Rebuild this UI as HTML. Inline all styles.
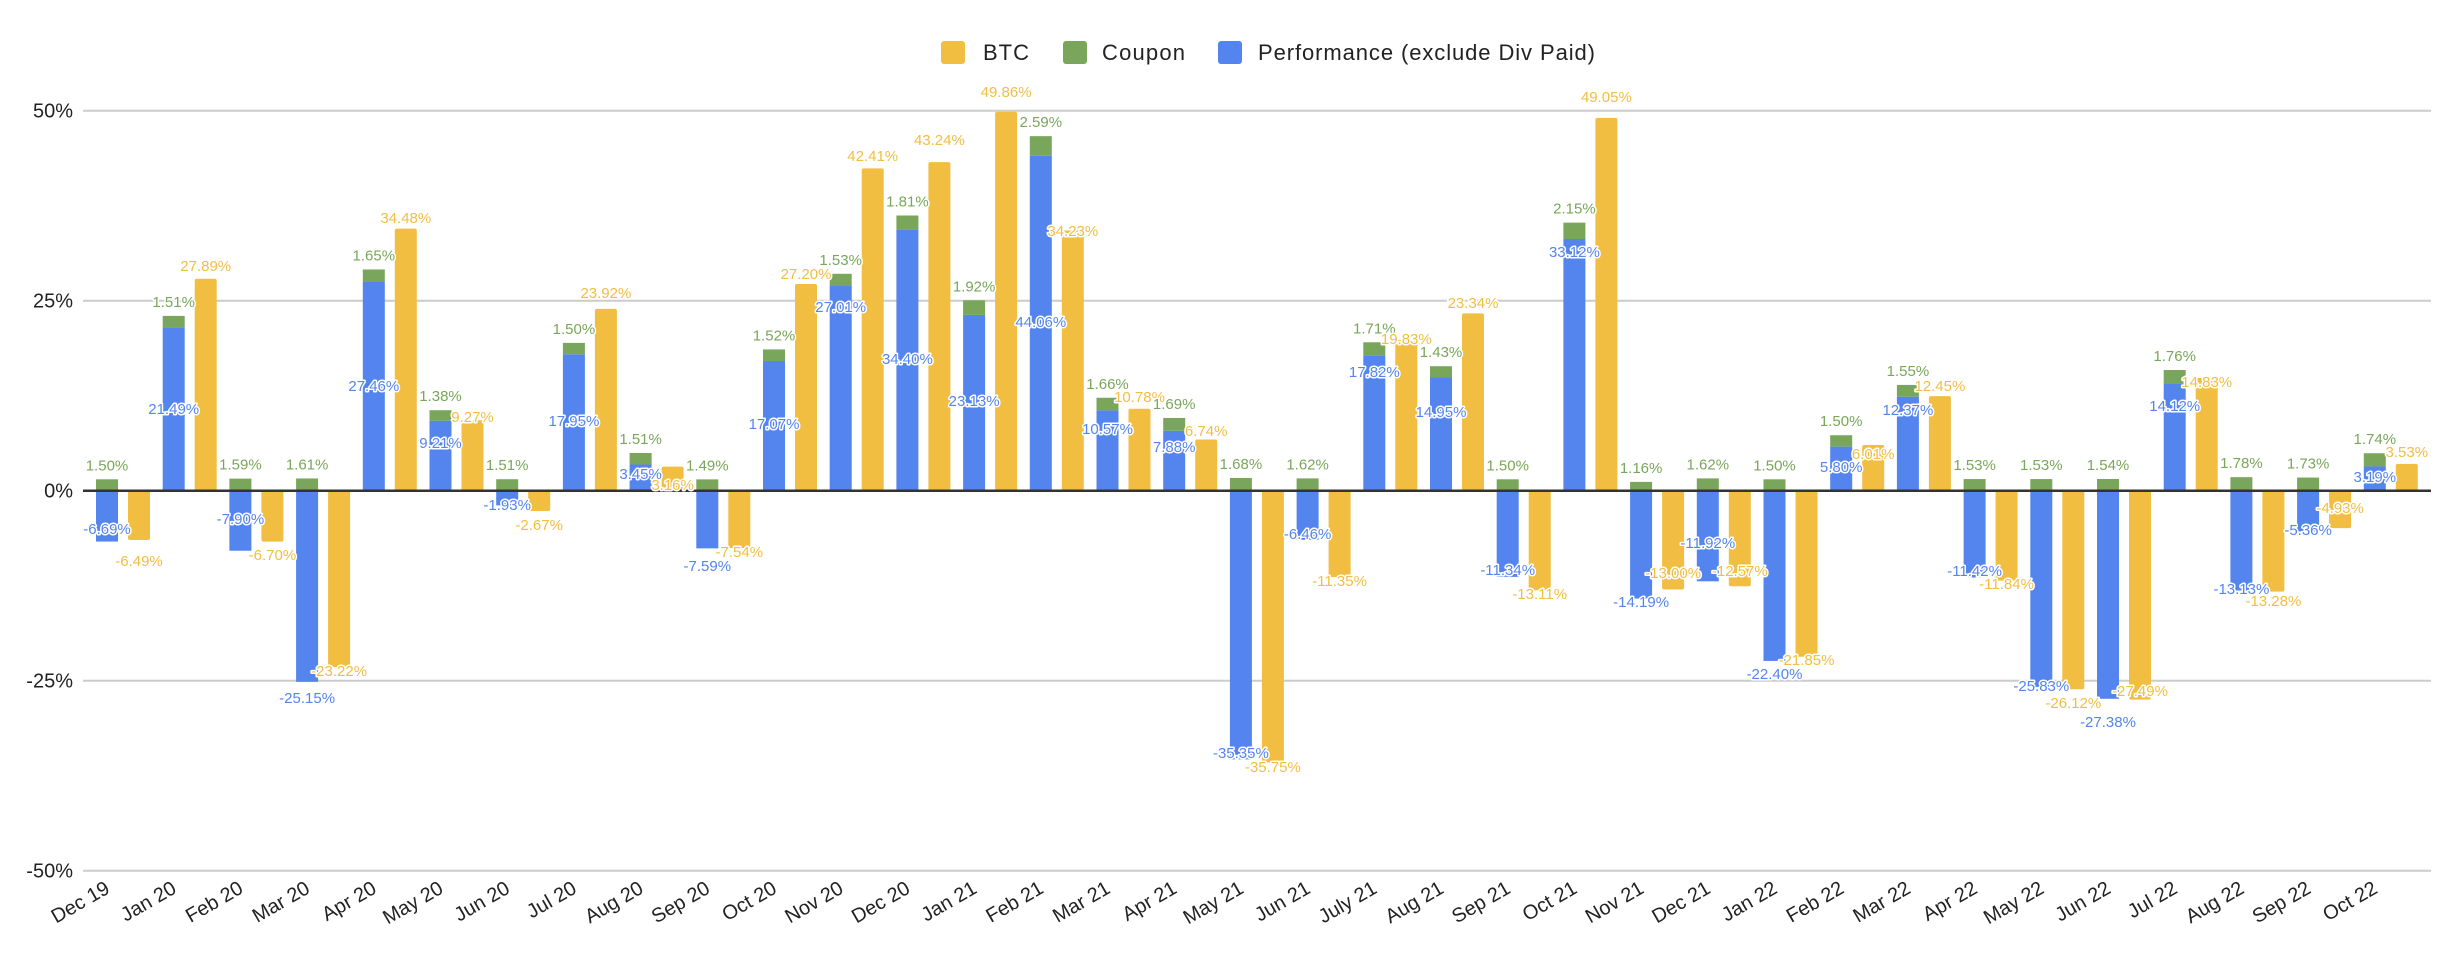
<!DOCTYPE html>
<html><head><meta charset="utf-8"><style>
html,body{margin:0;padding:0;background:#fff;}
svg{display:block;font-family:"Liberation Sans",Arial,sans-serif;}
.lbl{font-size:15px;text-anchor:middle;paint-order:stroke;stroke:#fff;stroke-width:3px;stroke-linejoin:round;}
</style></head><body>
<svg id="c" width="2460" height="958" xmlns="http://www.w3.org/2000/svg"></svg>
<script>
const D=[["Dec 19",-6.69,1.50,-6.49],["Jan 20",21.49,1.51,27.89],["Feb 20",-7.90,1.59,-6.70],["Mar 20",-25.15,1.61,-23.22],["Apr 20",27.46,1.65,34.48],["May 20",9.21,1.38,9.27],["Jun 20",-1.93,1.51,-2.67],["Jul 20",17.95,1.50,23.92],["Aug 20",3.45,1.51,3.16],["Sep 20",-7.59,1.49,-7.54],["Oct 20",17.07,1.52,27.20],["Nov 20",27.01,1.53,42.41],["Dec 20",34.40,1.81,43.24],["Jan 21",23.13,1.92,49.86],["Feb 21",44.06,2.59,34.23],["Mar 21",10.57,1.66,10.78],["Apr 21",7.88,1.69,6.74],["May 21",-35.35,1.68,-35.75],["Jun 21",-6.46,1.62,-11.35],["July 21",17.82,1.71,19.83],["Aug 21",14.95,1.43,23.34],["Sep 21",-11.34,1.50,-13.11],["Oct 21",33.12,2.15,49.05],["Nov 21",-14.19,1.16,-13.00],["Dec 21",-11.92,1.62,-12.57],["Jan 22",-22.40,1.50,-21.85],["Feb 22",5.80,1.50,6.01],["Mar 22",12.37,1.55,12.45],["Apr 22",-11.42,1.53,-11.84],["May 22",-25.83,1.53,-26.12],["Jun 22",-27.38,1.54,-27.49],["Jul 22",14.12,1.76,14.83],["Aug 22",-13.13,1.78,-13.28],["Sep 22",-5.36,1.73,-4.93],["Oct 22",3.19,1.74,3.53]];
const BY=[529,409,519,698,386,443,505,421,474,566,424,307,359,401,322,429,447,753,534,372,412,570,252,602,543,674,467,410,571,686,722,406,589,530,477];
const YY=[561,266,555,671,218,417,525,293,485,552,274,156,140,92,231,397,431,767,581,339,303,594,97,573,571,660,454,386,584,703,691,382,601,508,452];
const Z=490.7,K=7.6;
const B="#5484ED",Y="#F1BE42",G="#79A65A";
let s="";
const y=v=>Z-v*K;
[50,25,-25,-50].forEach(v=>{s+=`<line x1="83" x2="2431" y1="${y(v)}" y2="${y(v)}" stroke="#ccc" stroke-width="2"/>`;});
[50,25,0,-25,-50].forEach(v=>{s+=`<text x="73" y="${y(v)+7}" font-size="20" text-anchor="end" fill="#222">${v}%</text>`;});
s+=`<rect x="941" y="41" width="24" height="23" rx="3" fill="${Y}"/><text x="983" y="60" font-size="22" fill="#222" textLength="46">BTC</text>`;
s+=`<rect x="1063" y="41" width="24" height="23" rx="3" fill="${G}"/><text x="1102" y="60" font-size="22" fill="#222" textLength="83">Coupon</text>`;
s+=`<rect x="1218" y="41" width="24" height="23" rx="3" fill="${B}"/><text x="1258" y="60" font-size="22" fill="#222" textLength="337">Performance (exclude Div Paid)</text>`;
let labels="";
D.forEach((d,i)=>{
 const bx=96+i*66.7, yx=bx+32;
 const [n,p,c,b]=d;
 if(p>=0){s+=`<rect x="${bx}" y="${y(p)}" width="22" height="${p*K}" fill="${B}"/>`;
   s+=`<rect x="${bx}" y="${y(p+c)}" width="22" height="${c*K}" fill="${G}"/>`;}
 else{s+=`<rect x="${bx}" y="${Z}" width="22" height="${-p*K}" fill="${B}"/>`;
   s+=`<rect x="${bx}" y="${y(c)}" width="22" height="${c*K}" fill="${G}"/>`;}
 const gt=y(Math.max(p,0)+c);
 labels+=`<text class="lbl" x="${bx+11}" y="${gt-9}" fill="${G}">${c.toFixed(2)}%</text>`;
 if(b>=0) s+=`<rect x="${yx}" y="${y(b)}" width="22" height="${b*K}" rx="2" fill="${Y}"/>`;
 else s+=`<rect x="${yx}" y="${Z}" width="22" height="${-b*K}" rx="2" fill="${Y}"/>`;
 labels+=`<text class="lbl" x="${bx+11}" y="${BY[i]+5}" fill="${B}">${p.toFixed(2)}%</text>`;
 labels+=`<text class="lbl" x="${yx+11}" y="${YY[i]+5}" fill="${Y}">${b.toFixed(2)}%</text>`;
 const cx=bx+27;
 s+=`<text transform="translate(${cx-12},${892}) rotate(-30)" font-size="20" text-anchor="end" fill="#222">${n}</text>`;
});
s+=`<line x1="83" x2="2431" y1="${Z}" y2="${Z}" stroke="#333" stroke-width="2.5"/>`;
s+=labels;
document.getElementById("c").innerHTML=s;
</script>
</body></html>
